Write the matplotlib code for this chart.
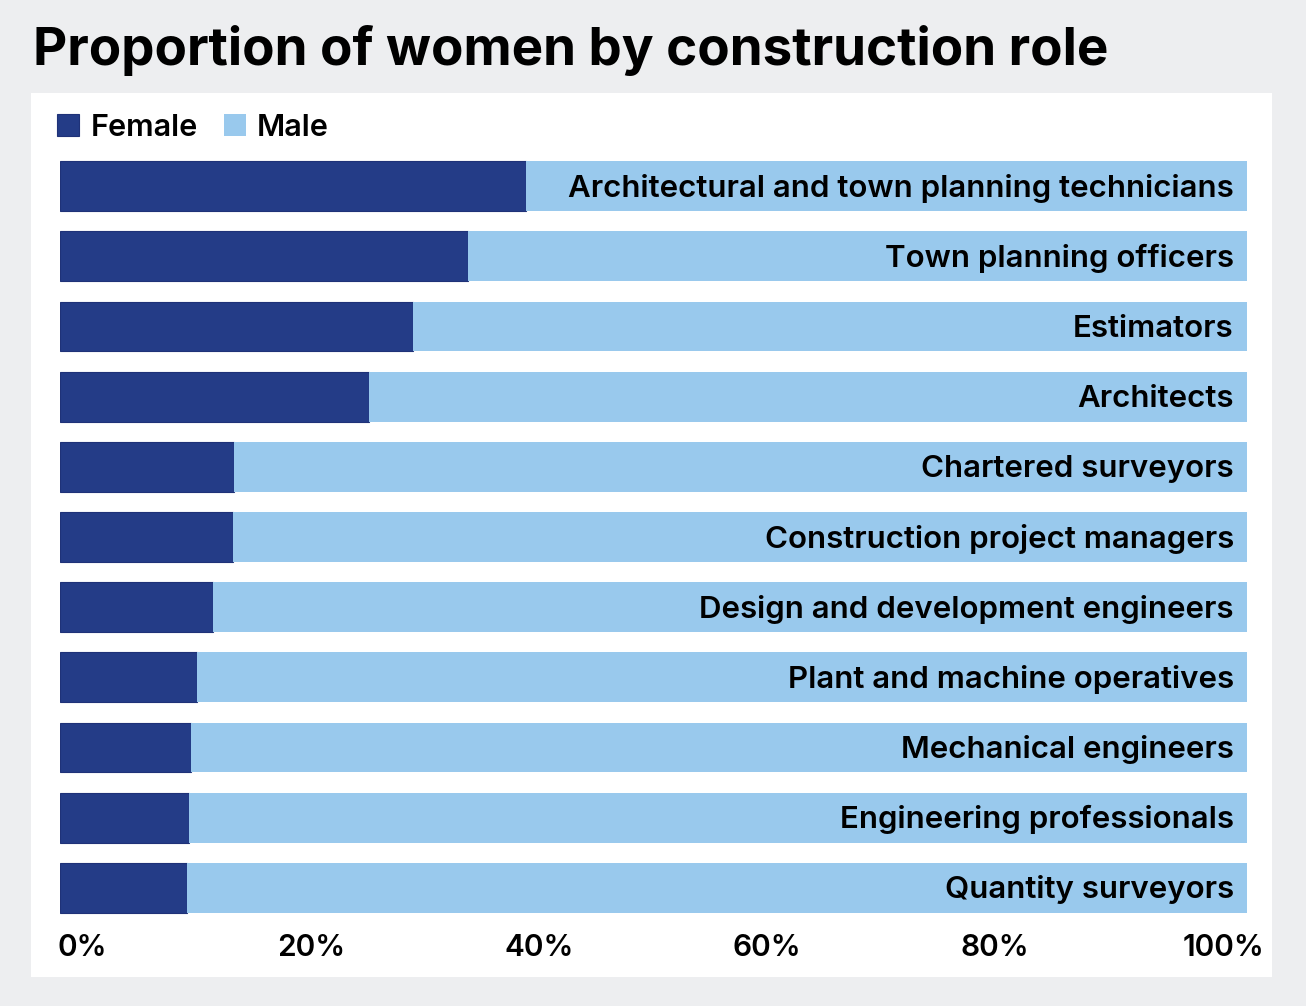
import matplotlib.pyplot as plt
import matplotlib.patches as mpatches
import numpy as np

plt.rcParams['font.family'] = ['Inter', 'DejaVu Sans']

roles = ["Architectural and town planning technicians",
         "Town planning officers",
         "Estimators",
         "Architects",
         "Chartered surveyors",
         "Construction project managers",
         "Design and development engineers",
         "Plant and machine operatives",
         "Mechanical engineers",
         "Engineering professionals",
         "Quantity surveyors"]
female = [39.3, 34.4, 29.7, 26.0, 14.7, 14.6, 12.9, 11.5, 11.0, 10.9, 10.7]
male = [100 - f for f in female]
tick_labels = ["0%", "20%", "40%", "60%", "80%", "100%"]

dark = '#243c87'
light = '#99c9ed'
wt = 'semibold'

W, H = 1306, 1006
fig = plt.figure(figsize=(W / 100, H / 100), dpi=100)
fig.patch.set_facecolor('#edeef0')

# white panel behind the chart
fig.patches.append(mpatches.Rectangle((31 / W, 1 - 977 / H), (1272 - 31) / W, (977 - 93) / H,
                                      transform=fig.transFigure, facecolor='white',
                                      edgecolor='none', zorder=-1))

fig.text(33 / W, 1 - 65 / H, "Proportion of women by construction role",
         fontsize=38.1, fontweight='bold', va='baseline', ha='left')

ax = fig.add_axes([60 / W, 1 - 923 / H, 1187 / W, 772 / H])
ax.set_zorder(2)
ax.set_facecolor('none')
y = np.arange(len(roles))
ax.barh(y, female, height=0.71, color=dark, edgecolor='#1f3278', linewidth=0.8, label='Female')
ax.barh(y, male, left=female, height=0.71, color=light, label='Male')
for i, r in enumerate(roles):
    ax.annotate(r, (100, i), xytext=(-9.5, -1.5), textcoords='offset points',
                ha='right', va='center', fontsize=22.5, fontweight=wt)

ax.set_xlim(0, 100)
ax.set_ylim(len(roles) - 0.5, -0.5)
ax.set_yticks([])
ax.set_xticks(np.linspace(1.9, 98.0, 6))
ax.set_xticklabels(tick_labels, fontsize=21.5, fontweight=wt)
ax.tick_params(axis='x', length=0, pad=8)
for s in ax.spines.values():
    s.set_visible(False)

ax.legend(loc='lower left', bbox_to_anchor=(-0.0099, 1.0), ncol=2, frameon=False,
          handlelength=0.72, handleheight=0.72, handletextpad=0.36,
          columnspacing=0.85, borderpad=0, borderaxespad=0.3,
          prop={'weight': wt, 'size': 22})

fig.savefig('out.png', dpi=100, facecolor=fig.get_facecolor())
